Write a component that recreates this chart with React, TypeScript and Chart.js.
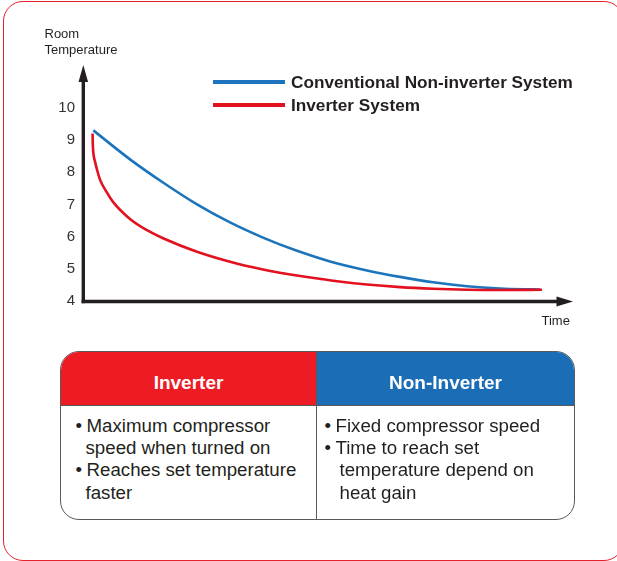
import React, { useEffect, useRef } from "react";
import { Chart, registerables } from "chart.js";

Chart.register(...registerables);

// ---- data ----
const seriesLabels = ["Conventional Non-inverter System", "Inverter System"];
const blueTime = [2.1, 9.59, 16.33, 23.27, 30, 36.73, 43.67, 50.41, 57.96, 64.69, 71.43, 78.37, 85.1, 91.84, 93.27];
const blueTemp = [9.3, 8.4, 7.68, 7.0, 6.44, 5.97, 5.56, 5.23, 4.95, 4.75, 4.58, 4.46, 4.39, 4.36, 4.355];
const redTime = [1.95, 2.0, 2.15, 2.45, 2.86, 3.47, 4.84, 6.12, 9.59, 13.06, 16.33, 23.27, 30, 36.73, 43.67, 51.02, 57.96, 64.69, 71.43, 78.37, 85.1, 93.67];
const redTemp = [9.2, 8.86, 8.55, 8.33, 8.08, 7.77, 7.38, 7.08, 6.55, 6.2, 5.95, 5.53, 5.22, 4.98, 4.79, 4.63, 4.51, 4.43, 4.38, 4.35, 4.34, 4.35];
const yTicks = [4, 5, 6, 7, 8, 9, 10];
const yMin = 4;
const yMax = 11.33;
const xMin = 0;
const xMax = 100;

const tableHeaders = ["Inverter", "Non-Inverter"];
const inverterPoints = [["Maximum compressor", "speed when turned on"], ["Reaches set temperature", "faster"]];
const nonInverterPoints = [["Fixed compressor speed"], ["Time to reach set", "temperature depend on", "heat gain"]];

const FONT = '"Liberation Sans", Arial, Helvetica, sans-serif';
const BLUE = "#1c75bc";
const RED = "#e3101e";
const INK = "#231f20";

const axisArrows = {
  id: "axisArrows",
  afterDatasetsDraw(chart: any) {
    const { ctx } = chart;
    const x = chart.scales.x;
    const y = chart.scales.y;
    const x0 = x.getPixelForValue(xMin) + 0.3;
    const xEnd = x.getPixelForValue(xMax);
    const y0 = y.getPixelForValue(yMin) + 0.5;
    const yEnd = y.getPixelForValue(yMax);
    ctx.save();
    ctx.strokeStyle = INK;
    ctx.fillStyle = INK;
    ctx.lineWidth = 3.4;
    ctx.beginPath();
    ctx.moveTo(x0, y0 + 1.7);
    ctx.lineTo(x0, yEnd + 15);
    ctx.stroke();
    ctx.beginPath();
    ctx.moveTo(x0 - 1.7, y0);
    ctx.lineTo(xEnd - 14, y0);
    ctx.stroke();
    ctx.beginPath();
    ctx.moveTo(x0, yEnd);
    ctx.lineTo(x0 - 4.8, yEnd + 17);
    ctx.lineTo(x0 + 4.8, yEnd + 17);
    ctx.closePath();
    ctx.fill();
    ctx.beginPath();
    ctx.moveTo(xEnd, y0);
    ctx.lineTo(xEnd - 16.5, y0 - 5);
    ctx.lineTo(xEnd - 16.5, y0 + 5);
    ctx.closePath();
    ctx.fill();
    ctx.restore();
  },
};

function ChartCanvas() {
  const ref = useRef<HTMLCanvasElement>(null);
  useEffect(() => {
    if (!ref.current) return;
    const chart = new Chart(ref.current, {
      type: "line",
      data: {
        datasets: [
          {
            label: seriesLabels[0],
            data: blueTime.map((t, i) => ({ x: t, y: blueTemp[i] })),
            borderColor: BLUE,
            borderWidth: 2.6,
            pointRadius: 0,
            cubicInterpolationMode: "monotone",
            fill: false,
            order: 1,
          },
          {
            label: seriesLabels[1],
            data: redTime.map((t, i) => ({ x: t, y: redTemp[i] })),
            borderColor: RED,
            borderWidth: 2.6,
            pointRadius: 0,
            cubicInterpolationMode: "monotone",
            fill: false,
            order: 0,
          },
        ],
      },
      options: {
        animation: false,
        responsive: false,
        maintainAspectRatio: false,
        layout: { padding: { left: 43, right: 44, top: 65, bottom: 39 } },
        plugins: { legend: { display: false }, tooltip: { enabled: false } },
        scales: {
          x: { type: "linear", min: xMin, max: xMax, display: false },
          y: {
            type: "linear",
            min: yMin,
            max: yMax,
            grid: { display: false, drawTicks: false },
            border: { display: false },
            ticks: { color: "#333", font: { family: FONT, size: 15 }, padding: 8 },
            afterBuildTicks: (s: any) => {
              s.ticks = yTicks.map((v) => ({ value: v }));
            },
            afterFit: (s: any) => {
              s.width = 40;
            },
          },
        },
      },
      plugins: [axisArrows],
    } as any);
    return () => chart.destroy();
  }, []);
  return (
    <canvas
      ref={ref}
      width={617}
      height={340}
      style={{ position: "absolute", left: 0, top: 0, width: 617, height: 340, display: "block" }}
    />
  );
}

const abs = (left: number, top: number, fs: number, extra: any = {}) => ({
  position: "absolute" as const,
  left,
  top,
  fontSize: fs,
  lineHeight: 1,
  whiteSpace: "nowrap" as const,
  fontFamily: FONT,
  color: INK,
  ...extra,
});

export default function App() {
  const bodyFs = 18.7;
  const lineTops = [416.9, 439.1, 461.3, 483.5];
  const renderCol = (points: string[][], bulletLeft: number, firstLeft: number, contLeft: number) => {
    const out: any[] = [];
    let row = 0;
    points.forEach((lines, pi) => {
      lines.forEach((ln, li) => {
        const top = lineTops[row];
        if (li === 0) {
          out.push(
            <span key={`b${pi}`} style={abs(bulletLeft, top, bodyFs)}>•</span>
          );
        }
        out.push(
          <span key={`t${pi}-${li}`} style={abs(li === 0 ? firstLeft : contLeft, top, bodyFs)}>{ln}</span>
        );
        row++;
      });
    });
    return out;
  };

  return (
    <div style={{ position: "fixed", left: 0, top: 0, width: 617, height: 561, overflow: "hidden", background: "#fff", fontFamily: FONT }}>
      <div
        style={{
          position: "absolute",
          left: 3,
          top: 1,
          width: 621,
          height: 560,
          border: "1.5px solid #e4222b",
          borderRadius: 20,
          boxSizing: "border-box",
        }}
      />
      <ChartCanvas />
      <span style={abs(44.5, 27.3, 13)}>Room</span>
      <span style={abs(44.5, 43, 13)}>Temperature</span>
      <span style={abs(541.5, 314, 13)}>Time</span>

      {/* legend */}
      <div style={{ position: "absolute", left: 213, top: 80, width: 72, height: 3.5, background: BLUE }} />
      <div style={{ position: "absolute", left: 213, top: 103.2, width: 72, height: 3.5, background: RED }} />
      <span style={abs(291, 73.8, 17.2, { fontWeight: "bold" })}>{seriesLabels[0]}</span>
      <span style={abs(291, 97, 17.2, { fontWeight: "bold" })}>{seriesLabels[1]}</span>

      {/* table */}
      <div
        style={{
          position: "absolute",
          left: 60,
          top: 351,
          width: 515,
          height: 169,
          border: "1.2px solid #5a5a5a",
          borderRadius: 19,
          boxSizing: "border-box",
          overflow: "hidden",
        }}
      >
        <div style={{ position: "absolute", left: 0, top: 0, width: 255, height: 52.5, background: "#ed1c24" }} />
        <div style={{ position: "absolute", left: 256, top: 0, right: 0, height: 52.5, background: "#1b6db5" }} />
        <div style={{ position: "absolute", left: 0, right: 0, top: 52.5, height: 1.2, background: "#5a5a5a" }} />
        <div style={{ position: "absolute", left: 255, top: 0, bottom: 0, width: 1.2, background: "#5a5a5a" }} />
        <div style={{ position: "absolute", left: 0, top: 5, width: 255, height: 52.5, display: "flex", alignItems: "center", justifyContent: "center", color: "#fff", fontWeight: "bold", fontSize: 19, fontFamily: FONT }}>
          {tableHeaders[0]}
        </div>
        <div style={{ position: "absolute", left: 256, top: 5, width: 257, height: 52.5, display: "flex", alignItems: "center", justifyContent: "center", color: "#fff", fontWeight: "bold", fontSize: 19, fontFamily: FONT }}>
          {tableHeaders[1]}
        </div>
      </div>
      {renderCol(inverterPoints, 75.5, 86.5, 85.5)}
      {renderCol(nonInverterPoints, 324.5, 335.5, 339.5)}
    </div>
  );
}
